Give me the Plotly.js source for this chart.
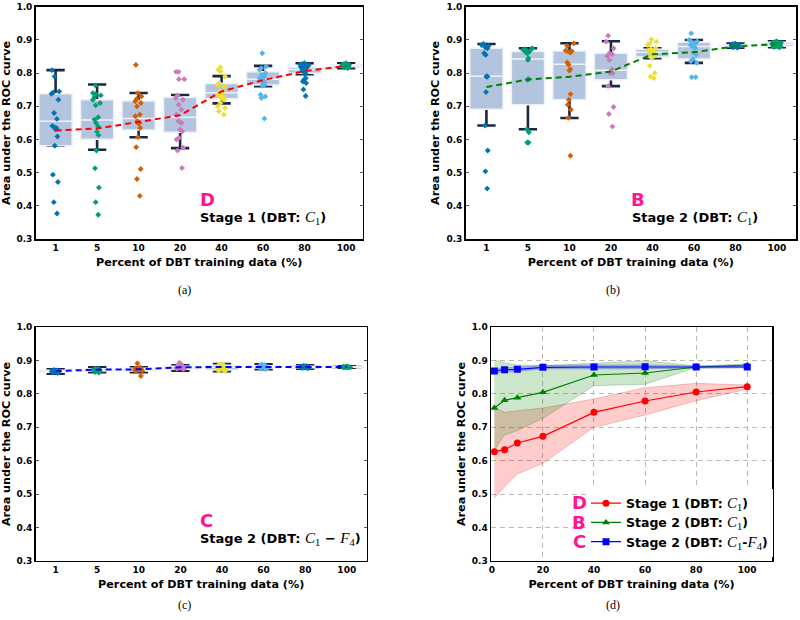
<!DOCTYPE html>
<html>
<head>
<meta charset="utf-8">
<script src="https://cdn.plot.ly/plotly-3.0.1.min.js"></script>
<style>html,body{margin:0;padding:0;background:#fff;}#chart{width:800px;height:620px;}</style>
</head>
<body>
<div id="chart"></div>
<script>
// ---------------- DATA ----------------
const cats = ['1', '5', '10', '20', '40', '60', '80', '100'];
const xPct = [1, 5, 10, 20, 40, 60, 80, 100];

// Panel (a): Stage 1 (DBT: C1) box statistics
const aLower = [0.581, 0.569, 0.607, 0.574, 0.709, 0.761, 0.797, 0.815];
const aQ1    = [0.581, 0.601, 0.629, 0.622, 0.723, 0.764, 0.800, 0.819];
const aMed   = [0.655, 0.659, 0.663, 0.667, 0.741, 0.782, 0.811, 0.822];
const aQ3    = [0.738, 0.720, 0.716, 0.727, 0.769, 0.804, 0.818, 0.825];
const aUpper = [0.809, 0.766, 0.740, 0.734, 0.791, 0.822, 0.830, 0.830];
// Panel (a) individual runs
const aP1   = [0.809, 0.790, 0.745, 0.742, 0.738, 0.720, 0.680, 0.662, 0.641, 0.637, 0.634, 0.631, 0.609, 0.581, 0.494, 0.472, 0.411, 0.377];
const aP5   = [0.763, 0.740, 0.737, 0.733, 0.728, 0.720, 0.710, 0.703, 0.667, 0.660, 0.650, 0.640, 0.623, 0.613, 0.567, 0.513, 0.455, 0.411, 0.373];
const aP10  = [0.825, 0.740, 0.730, 0.722, 0.715, 0.710, 0.700, 0.675, 0.670, 0.655, 0.650, 0.648, 0.635, 0.607, 0.577, 0.511, 0.481, 0.430];
const aP20  = [0.804, 0.804, 0.782, 0.782, 0.733, 0.725, 0.720, 0.705, 0.690, 0.675, 0.655, 0.650, 0.630, 0.625, 0.605, 0.600, 0.575, 0.567, 0.514];
const aP40  = [0.818, 0.810, 0.805, 0.790, 0.770, 0.765, 0.760, 0.745, 0.740, 0.735, 0.730, 0.730, 0.725, 0.720, 0.710, 0.700, 0.695, 0.685, 0.675];
const aP60  = [0.860, 0.820, 0.815, 0.810, 0.800, 0.795, 0.790, 0.785, 0.780, 0.775, 0.770, 0.765, 0.762, 0.735, 0.730, 0.725, 0.663];
const aP80  = [0.830, 0.828, 0.826, 0.825, 0.824, 0.822, 0.820, 0.818, 0.815, 0.812, 0.810, 0.805, 0.800, 0.797, 0.785, 0.780, 0.775, 0.770, 0.751, 0.731];
const aP100 = [0.830, 0.828, 0.827, 0.826, 0.825, 0.824, 0.823, 0.822, 0.822, 0.821, 0.820, 0.820, 0.819, 0.818, 0.817, 0.815, 0.824, 0.823, 0.821, 0.822];

// Panel (b): Stage 2 (DBT: C1)
const bLower = [0.642, 0.631, 0.665, 0.761, 0.845, 0.831, 0.877, 0.878];
const bQ1    = [0.691, 0.705, 0.720, 0.780, 0.849, 0.843, 0.880, 0.881];
const bMed   = [0.791, 0.843, 0.827, 0.809, 0.863, 0.880, 0.883, 0.887];
const bQ3    = [0.875, 0.865, 0.867, 0.860, 0.872, 0.893, 0.886, 0.893];
const bUpper = [0.888, 0.875, 0.890, 0.896, 0.875, 0.900, 0.889, 0.896];
const bP1   = [0.888, 0.885, 0.882, 0.878, 0.875, 0.860, 0.855, 0.790, 0.790, 0.790, 0.743, 0.642, 0.567, 0.504, 0.452];
const bP5   = [0.875, 0.872, 0.870, 0.868, 0.866, 0.864, 0.862, 0.860, 0.845, 0.840, 0.782, 0.780, 0.631, 0.622, 0.591, 0.591];
const bP10  = [0.890, 0.882, 0.868, 0.866, 0.865, 0.862, 0.832, 0.826, 0.812, 0.808, 0.737, 0.720, 0.705, 0.690, 0.665, 0.551];
const bP20  = [0.913, 0.895, 0.875, 0.860, 0.857, 0.852, 0.840, 0.812, 0.805, 0.800, 0.800, 0.761, 0.698, 0.677, 0.639];
const bP40  = [0.902, 0.895, 0.890, 0.885, 0.875, 0.872, 0.870, 0.868, 0.865, 0.862, 0.858, 0.852, 0.846, 0.822, 0.800, 0.790, 0.785];
const bP60  = [0.920, 0.900, 0.896, 0.893, 0.888, 0.885, 0.880, 0.876, 0.862, 0.856, 0.842, 0.836, 0.831, 0.788, 0.788];
const bP80  = [0.889, 0.888, 0.887, 0.886, 0.885, 0.885, 0.884, 0.883, 0.883, 0.882, 0.882, 0.881, 0.880, 0.880, 0.879, 0.878, 0.877, 0.884, 0.883, 0.881];
const bP100 = [0.896, 0.894, 0.893, 0.892, 0.891, 0.890, 0.889, 0.888, 0.887, 0.886, 0.886, 0.885, 0.884, 0.883, 0.882, 0.881, 0.880, 0.879, 0.878, 0.887];

// Panel (c): Stage 2 (DBT: C1 - F4)
const cLower = [0.861, 0.865, 0.865, 0.870, 0.868, 0.874, 0.876, 0.879];
const cQ1    = [0.865, 0.869, 0.869, 0.874, 0.872, 0.878, 0.879, 0.880];
const cMed   = [0.868, 0.873, 0.873, 0.879, 0.880, 0.882, 0.881, 0.881];
const cQ3    = [0.871, 0.876, 0.877, 0.883, 0.886, 0.885, 0.883, 0.882];
const cUpper = [0.874, 0.880, 0.880, 0.886, 0.890, 0.889, 0.886, 0.883];
const cP1   = [0.872, 0.870, 0.869, 0.868, 0.868, 0.867, 0.866, 0.865, 0.863, 0.871, 0.869, 0.867];
const cP5   = [0.876, 0.875, 0.874, 0.873, 0.872, 0.871, 0.870, 0.868, 0.866, 0.864, 0.874, 0.872];
const cP10  = [0.892, 0.880, 0.877, 0.876, 0.875, 0.874, 0.873, 0.872, 0.870, 0.868, 0.854, 0.875];
const cP20  = [0.894, 0.889, 0.886, 0.883, 0.881, 0.879, 0.878, 0.877, 0.876, 0.875, 0.882, 0.880];
const cP40  = [0.890, 0.888, 0.886, 0.884, 0.882, 0.880, 0.878, 0.876, 0.874, 0.872, 0.870, 0.868];
const cP60  = [0.889, 0.887, 0.886, 0.885, 0.884, 0.883, 0.882, 0.881, 0.880, 0.878, 0.876, 0.875];
const cP80  = [0.885, 0.884, 0.883, 0.882, 0.881, 0.880, 0.880, 0.879, 0.878, 0.877, 0.881, 0.882];
const cP100 = [0.882, 0.881, 0.881, 0.881, 0.880, 0.880, 0.881, 0.882, 0.881, 0.880, 0.881, 0.881];

// Mean AUC per training fraction (panels a-d)
const meanS1  = [0.627, 0.633, 0.653, 0.673, 0.745, 0.779, 0.806, 0.822];
const meanS2  = [0.758, 0.781, 0.789, 0.805, 0.857, 0.863, 0.881, 0.887];
const meanS2all = [0.869, 0.873, 0.874, 0.880, 0.881, 0.882, 0.881, 0.881];
// Panel (d) shaded ranges
const s1Lo = [0.488, 0.522, 0.560, 0.592, 0.700, 0.737, 0.780, 0.814];
const s1Hi = [0.760, 0.745, 0.750, 0.758, 0.785, 0.819, 0.832, 0.827];
const s2Lo = [0.632, 0.677, 0.690, 0.727, 0.825, 0.829, 0.880, 0.884];
const s2Hi = [0.902, 0.894, 0.887, 0.885, 0.892, 0.900, 0.884, 0.890];
const s3Lo = [0.862, 0.866, 0.868, 0.875, 0.875, 0.876, 0.878, 0.878];
const s3Hi = [0.876, 0.878, 0.879, 0.886, 0.887, 0.887, 0.884, 0.884];

const MC = '<span style="font-family:\'Liberation Serif\';font-weight:normal;font-size:15px"><i>C</i><sub>1</sub></span>';
const MF = '<span style="font-family:\'Liberation Serif\';font-weight:normal;font-size:15px"><i>F</i><sub>4</sub></span>';
const seriesNames = ['Stage 1 (DBT: ' + MC + ')', 'Stage 2 (DBT: ' + MC + ')', 'Stage 2 (DBT: ' + MC + '-' + MF + ')'];
const stageCText = 'Stage 2 (DBT: ' + MC + ' \u2212 ' + MF + ')';

// ---------------- STYLE ----------------
const FONT = 'DejaVu Sans';
const NAVY = '#1b2745';
const BOXFILL = '#b3c5de';
const BOXEDGE = '#eef2f8';
const PINK = '#ff1493';
const ptColors = ['#0173b2', '#029e73', '#d55e00', '#cc78bc', '#ece133', '#56b4e9', '#0173b2', '#029e73'];

function boxPanel(xa, ya, lower, q1, med, q3, upper, pts, mean, meanColor) {
  const tr = [];
  // whiskers + caps (dark)
  tr.push({type: 'box', xaxis: xa, yaxis: ya, x: cats, q1: med, median: med, q3: med,
    lowerfence: lower, upperfence: upper, width: 0.7, whiskerwidth: 0.63,
    line: {color: NAVY, width: 2.6}, fillcolor: NAVY, boxpoints: false,
    showlegend: false, hoverinfo: 'skip'});
  // boxes (light)
  tr.push({type: 'box', xaxis: xa, yaxis: ya, x: cats, q1: q1, median: med, q3: q3,
    lowerfence: q1, upperfence: q3, width: 0.8, whiskerwidth: 0,
    line: {color: BOXEDGE, width: 1.5}, fillcolor: BOXFILL, boxpoints: false,
    showlegend: false, hoverinfo: 'skip'});
  // individual points
  pts.forEach((vals, i) => {
    tr.push({type: 'box', xaxis: xa, yaxis: ya, x: vals.map(() => cats[i]), y: vals,
      boxpoints: 'all', jitter: 0.3, pointpos: 0, width: 0.8,
      line: {width: 0, color: 'rgba(0,0,0,0)'}, fillcolor: 'rgba(0,0,0,0)',
      marker: {color: ptColors[i], size: 4.5, symbol: 'diamond'},
      showlegend: false, hoverinfo: 'skip'});
  });
  // mean dashed line
  tr.push({type: 'scatter', xaxis: xa, yaxis: ya, x: cats, y: mean, mode: 'lines',
    line: {color: meanColor, width: 2, dash: '6px,4px'}, showlegend: false, hoverinfo: 'skip'});
  return tr;
}

function band(lo, hi, fill, edge) {
  return {type: 'scatter', xaxis: 'x4', yaxis: 'y4',
    x: xPct.concat(xPct.slice().reverse()), y: hi.concat(lo.slice().reverse()),
    fill: 'toself', fillcolor: fill, mode: 'lines', line: {color: edge, width: 0.8},
    showlegend: false, hoverinfo: 'skip'};
}

const data = []
  .concat(boxPanel('x', 'y', aLower, aQ1, aMed, aQ3, aUpper, [aP1, aP5, aP10, aP20, aP40, aP60, aP80, aP100], meanS1, '#ff0000'))
  .concat(boxPanel('x2', 'y2', bLower, bQ1, bMed, bQ3, bUpper, [bP1, bP5, bP10, bP20, bP40, bP60, bP80, bP100], meanS2, '#008000'))
  .concat(boxPanel('x3', 'y3', cLower, cQ1, cMed, cQ3, cUpper, [cP1, cP5, cP10, cP20, cP40, cP60, cP80, cP100], meanS2all, '#0000ff'))
  .concat([
    band(s1Lo, s1Hi, 'rgba(255,0,0,0.2)', 'rgba(170,0,0,0.25)'),
    band(s2Lo, s2Hi, 'rgba(0,128,0,0.2)', 'rgba(0,90,0,0.25)'),
    band(s3Lo, s3Hi, 'rgba(0,0,255,0.2)', 'rgba(0,0,170,0.25)'),
    {type: 'scatter', xaxis: 'x4', yaxis: 'y4', x: xPct, y: meanS1, mode: 'lines+markers', name: seriesNames[0],
      line: {color: '#ff0000', width: 1.2}, marker: {color: '#ff0000', size: 7, symbol: 'circle'}},
    {type: 'scatter', xaxis: 'x4', yaxis: 'y4', x: xPct, y: meanS2, mode: 'lines+markers', name: seriesNames[1],
      line: {color: '#008000', width: 1.2}, marker: {color: '#008000', size: 7, symbol: 'triangle-up'}},
    {type: 'scatter', xaxis: 'x4', yaxis: 'y4', x: xPct, y: meanS2all, mode: 'lines+markers', name: seriesNames[2],
      line: {color: '#0000ff', width: 1.2}, marker: {color: '#0000ff', size: 7, symbol: 'square'}}
  ]);

const tickFont = {family: FONT, size: 9, weight: 'bold', color: '#000'};
const titleFont = {family: FONT, size: 11.2, weight: 'bold', color: '#000'};
const XT = 'Percent of DBT training data (%)';
const YT = 'Area under the ROC curve';

function catX(domain, anchor, range) {
  return {domain: domain, anchor: anchor, type: 'category', range: range,
    showline: true, mirror: true, linecolor: '#000', linewidth: 1.5, ticks: '',
    showgrid: false, zeroline: false, tickfont: tickFont,
    title: {text: XT, font: titleFont, standoff: 6}};
}
function valY(domain, anchor, grid) {
  return {domain: domain, anchor: anchor, range: [0.3, 1.0], dtick: 0.1, tick0: 0.3, tickformat: '.1f',
    showline: true, mirror: grid ? true : 'ticks', linecolor: '#000', linewidth: 1.5,
    ticks: grid ? '' : 'inside', ticklen: 3, tickcolor: '#555',
    showgrid: !!grid, gridcolor: '#b8b8b8', griddash: '5px,4px', zeroline: false, tickfont: tickFont,
    title: {text: YT, font: titleFont, standoff: 4}};
}

const topY = [0.6145, 0.989];
const botY = [0.0956, 0.4721];
const annFont = {family: FONT, size: 13, weight: 'bold', color: '#000'};
const letterFont = {family: FONT, size: 18, weight: 'bold', color: PINK};
const capFont = {family: 'Liberation Serif', size: 12, color: '#000'};
const layout = {
  width: 800, height: 620, margin: {l: 0, r: 0, t: 0, b: 0},
  paper_bgcolor: '#fff', plot_bgcolor: '#fff', boxmode: 'overlay',
  font: {family: FONT, color: '#000'},
  xaxis: catX([0.0446, 0.4534], 'y', [-0.48, 7.4]),
  yaxis: valY(topY, 'x'),
  xaxis2: catX([0.5821, 0.995], 'y2', [-0.5, 7.46]),
  yaxis2: valY(topY, 'x2'),
  xaxis3: catX([0.0446, 0.4584], 'y3', [-0.48, 7.48]),
  yaxis3: valY(botY, 'x3'),
  xaxis4: {domain: [0.6138, 0.965], anchor: 'y4', range: [-0.3, 109.7], tickvals: [0, 20, 40, 60, 80, 100],
    showline: true, mirror: true, linecolor: '#000', linewidth: 1.5, ticks: '',
    showgrid: true, gridcolor: '#b8b8b8', griddash: '5px,4px', zeroline: false, tickfont: tickFont,
    title: {text: XT, font: titleFont, standoff: 6}},
  yaxis4: valY(botY, 'x4', true),
  showlegend: true,
  legend: {x: 0.7325, y: 0.212, xanchor: 'left', yanchor: 'top', bgcolor: '#fff', borderwidth: 0,
    font: {family: FONT, size: 12.5, weight: 'bold', color: '#000'}, tracegroupgap: 0, itemwidth: 30},
  annotations: [
    {xref: 'paper', yref: 'paper', x: 0.247, y: 0.679, xanchor: 'left', yanchor: 'middle', showarrow: false,
      text: 'D', font: letterFont},
    {xref: 'paper', yref: 'paper', x: 0.247, y: 0.648, xanchor: 'left', yanchor: 'middle', showarrow: false,
      text: seriesNames[0], font: annFont},
    {xref: 'paper', yref: 'paper', x: 0.786, y: 0.679, xanchor: 'left', yanchor: 'middle', showarrow: false,
      text: 'B', font: letterFont},
    {xref: 'paper', yref: 'paper', x: 0.787, y: 0.648, xanchor: 'left', yanchor: 'middle', showarrow: false,
      text: seriesNames[1], font: annFont},
    {xref: 'paper', yref: 'paper', x: 0.247, y: 0.161, xanchor: 'left', yanchor: 'middle', showarrow: false,
      text: 'C', font: letterFont},
    {xref: 'paper', yref: 'paper', x: 0.247, y: 0.130, xanchor: 'left', yanchor: 'middle', showarrow: false,
      text: stageCText, font: annFont},
    {xref: 'paper', yref: 'paper', x: 0.724, y: 0.189, xanchor: 'center', yanchor: 'middle', showarrow: false,
      text: 'D', font: letterFont},
    {xref: 'paper', yref: 'paper', x: 0.724, y: 0.158, xanchor: 'center', yanchor: 'middle', showarrow: false,
      text: 'B', font: letterFont},
    {xref: 'paper', yref: 'paper', x: 0.724, y: 0.127, xanchor: 'center', yanchor: 'middle', showarrow: false,
      text: 'C', font: letterFont},
    {xref: 'paper', yref: 'paper', x: 0.231, y: 0.532, xanchor: 'center', yanchor: 'middle', showarrow: false,
      text: '(a)', font: capFont},
    {xref: 'paper', yref: 'paper', x: 0.766, y: 0.532, xanchor: 'center', yanchor: 'middle', showarrow: false,
      text: '(b)', font: capFont},
    {xref: 'paper', yref: 'paper', x: 0.231, y: 0.024, xanchor: 'center', yanchor: 'middle', showarrow: false,
      text: '(c)', font: capFont},
    {xref: 'paper', yref: 'paper', x: 0.766, y: 0.024, xanchor: 'center', yanchor: 'middle', showarrow: false,
      text: '(d)', font: capFont}
  ]
};

Plotly.newPlot('chart', data, layout, {staticPlot: true, displayModeBar: false});
</script>
</body>
</html>
